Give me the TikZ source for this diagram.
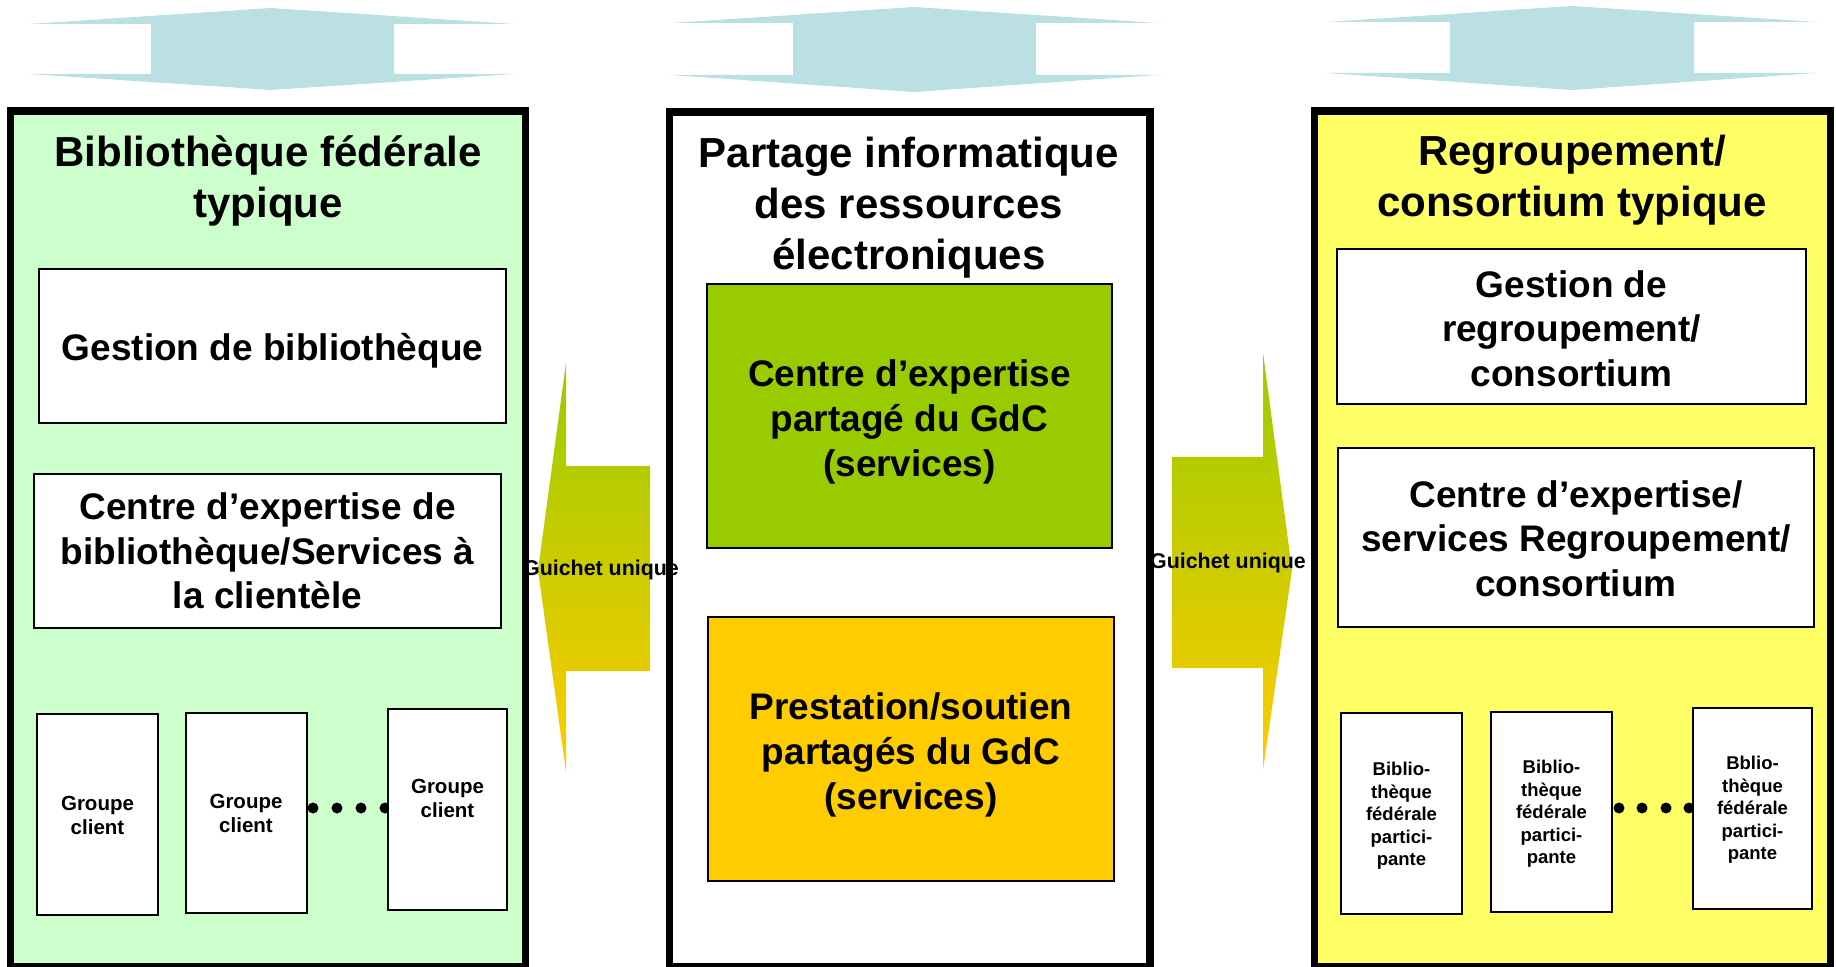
\documentclass[tikz,border=0pt]{standalone}
\usepackage{fontspec}
\setmainfont{Liberation Sans}
\usetikzlibrary{fit}
\definecolor{topblue}{HTML}{BBE0E3}
\definecolor{lgreen}{HTML}{CCFFCC}
\definecolor{lyellow}{HTML}{FFFF66}
\definecolor{bgreen}{HTML}{99CC00}
\definecolor{borange}{HTML}{FFCC00}
\definecolor{agreen}{HTML}{99CC00}
\definecolor{ayellow}{HTML}{FFCC00}
\begin{document}
\begin{tikzpicture}[x=0.5pt,y=-0.5pt,
  frame/.style={draw=black, line width=3.75pt, inner sep=0pt, outer sep=0pt},
  box/.style={draw=black, line width=0.8pt, fill=white, inner sep=0pt, outer sep=0pt},
  bigtxt/.style={font=\bfseries\fontsize{18.5}{22.3}\selectfont, align=center},
  titletxt/.style={font=\bfseries\fontsize{21}{25.5}\selectfont, align=center},
  smalltxt/.style={font=\bfseries\fontsize{10.25}{12}\selectfont, align=center},
  tinytxt/.style={font=\bfseries\fontsize{9.25}{11.2}\selectfont, align=center},
  guichet/.style={font=\bfseries\fontsize{10.7}{12}\selectfont},
  dotnode/.style={circle, fill=black, inner sep=0pt, minimum size=5.5pt}
]
\useasboundingbox (0,0) rectangle (1836,967);

% top double arrows
\fill[topblue] (29,24) -- (271,8) -- (514,24) -- (394,24) -- (394,74) -- (514,74) -- (271,90) -- (29,74) -- (151,74) -- (151,24) -- cycle;
\fill[topblue] (671,23) -- (914,7) -- (1158,23) -- (1036,23) -- (1036,75) -- (1158,75) -- (914,92) -- (671,75) -- (793,75) -- (793,23) -- cycle;
\fill[topblue] (1327,22) -- (1572,6) -- (1816,22) -- (1694,22) -- (1694,73) -- (1816,73) -- (1572,90) -- (1327,73) -- (1450,73) -- (1450,22) -- cycle;

% frames
\node[frame, fill=lgreen, fit={(10.5,111)(525.5,967)}] (LF) {};
\node[frame, fill=white, fit={(669.5,112)(1150,967)}] (MF) {};
\node[frame, fill=lyellow, fit={(1314.5,111)(1830.5,967)}] (RF) {};

% side arrows
\shade[top color=agreen, bottom color=ayellow] (538,570) -- (566,363) -- (566,466) -- (650,466) -- (650,671) -- (566,671) -- (566,772) -- cycle;
\node[guichet] (G1) at (601,570) {Guichet unique};
\shade[top color=agreen, bottom color=ayellow] (1292,570) -- (1263,353) -- (1263,457) -- (1172,457) -- (1172,668) -- (1263,668) -- (1263,770) -- cycle;
\node[guichet] (G2) at (1228,563) {Guichet unique};

% titles
\node[titletxt] (LT) at (268,181) {Bibliothèque fédérale\\typique};
\node[titletxt] (MT) at (909,208) {Partage informatique\\des ressources\\électroniques};
\node[titletxt] (RT) at (1572,180) {Regroupement/\\consortium typique};

% left boxes
\node[box, fit={(39,269)(506,423)}] (L1) {};
\node[bigtxt] (L1t) at (272.5,351) {Gestion de bibliothèque};
\node[box, fit={(34,474)(501,628)}] (L2) {};
\node[bigtxt] (L2t) at (L2.center) {Centre d’expertise de\\bibliothèque/Services à\\la clientèle};

\node[dotnode] (d1) at (313,808) {};
\node[dotnode] (d2) at (337,808) {};
\node[dotnode] (d3) at (361,808) {};
\node[dotnode] (d4) at (385,808) {};

\node[box, fit={(37,714)(158,915)}] (C1) {};
\node[box, fit={(186,713)(307,913)}] (C2) {};
\node[box, fit={(388,709)(507,910)}] (C3) {};
\node[smalltxt] (C1t) at (97.5,815) {Groupe\\client};
\node[smalltxt] (C2t) at (246,813) {Groupe\\client};
\node[smalltxt] (C3t) at (447.5,798) {Groupe\\client};

% middle boxes
\node[box, fill=bgreen, fit={(707,284)(1112,548)}] (M1) {};
\node[bigtxt] (M1t) at (909.5,422) {Centre d’expertise\\partagé du GdC\\(services)};
\node[box, fill=borange, fit={(708,617)(1114,881)}] (M2) {};
\node[bigtxt] (M2t) at (911,755) {Prestation/soutien\\partagés du GdC\\(services)};

% right boxes
\node[box, fit={(1337,249)(1806,404)}] (R1) {};
\node[bigtxt] (R1t) at (1571.5,328.5) {Gestion de\\regroupement/\\consortium};
\node[box, fit={(1338,448)(1814,627)}] (R2) {};
\node[bigtxt] (R2t) at (1576,538.5) {Centre d’expertise/\\services Regroupement/\\consortium};

\node[dotnode] (e1) at (1619,808) {};
\node[dotnode] (e2) at (1642,808) {};
\node[dotnode] (e3) at (1666,808) {};
\node[dotnode] (e4) at (1689,808) {};

\node[box, fit={(1341,713)(1462,914)}] (B1) {};
\node[box, fit={(1491,712)(1612,912)}] (B2) {};
\node[box, fit={(1693,708)(1812,909)}] (B3) {};
\node[tinytxt] (B1t) at (1401.5,816) {Biblio-\\thèque\\fédérale\\partici-\\pante};
\node[tinytxt] (B2t) at (1551.5,814) {Biblio-\\thèque\\fédérale\\partici-\\pante};
\node[tinytxt] (B3t) at (1752.5,810) {Bblio-\\thèque\\fédérale\\partici-\\pante};
\end{tikzpicture}
\end{document}
